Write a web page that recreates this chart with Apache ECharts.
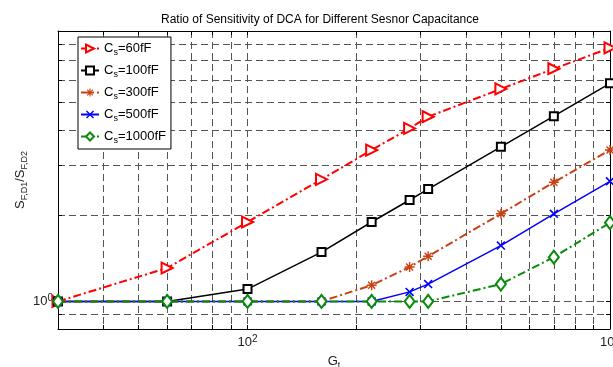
<!DOCTYPE html>
<html>
<head>
<meta charset="utf-8">
<script src="https://cdn.jsdelivr.net/npm/echarts@6/dist/echarts.min.js"></script>
<style>html,body{margin:0;padding:0;background:#fff}#c{width:613px;height:367px}</style>
</head>
<body>
<div id="c"></div>
<script>
// Data
const gt = [30, 60, 100, 160, 220, 280, 315, 500, 700, 1000];
const cs60 = [1, 1.31, 1.90, 2.68, 3.40, 4.05, 4.45, 5.57, 6.56, 7.76];
const cs100 = [1, 1, 1.105, 1.49, 1.90, 2.27, 2.48, 3.49, 4.47, 5.83];
const cs300 = [1, 1, 1, 1, 1.14, 1.32, 1.44, 2.03, 2.62, 3.40];
const cs500 = [1, 1, 1, 1, 1, 1.08, 1.15, 1.57, 2.03, 2.64];
const cs1000 = [1, 1, 1, 1, 1, 1, 1, 1.15, 1.43, 1.89];
const seriesNames = ['60fF', '100fF', '300fF', '500fF', '1000fF'];
const xTickValues = [40, 50, 60, 70, 80, 90, 100, 200, 300, 400, 500, 600, 700, 800, 900];
const yTickValues = [0.9, 1, 2, 3, 4, 5, 6, 7, 8];

const FONT = 'Liberation Sans, Arial, sans-serif';
const asterisk = 'path://M4.3,0L5.7,0L5.7,10L4.3,10Z M0,4.3L10,4.3L10,5.7L0,5.7Z M1,2L2,1L9,8L8,9Z M8,1L9,2L2,9L1,8Z';
const cross = 'path://M1,2L2,1L9,8L8,9Z M8,1L9,2L2,9L1,8Z';
const dashDot = [8, 3, 2, 3];

function pairs(arr) { return gt.map((x, i) => [x, arr[i]]); }
function powLabel(v) { return '{b|10}{e|' + Math.round(Math.log10(v)) + '}'; }

const labelRich = {
  b: { fontSize: 13, fontFamily: FONT, color: '#222', lineHeight: 16 },
  e: { fontSize: 10, fontFamily: FONT, color: '#222', lineHeight: 16, verticalAlign: 'top', padding: [0, 0, 6, 0] }
};
const gridLine = { show: true, lineStyle: { color: '#555', type: [7, 4], width: 1 } };

const chart = echarts.init(document.getElementById('c'), null, { renderer: 'canvas' });
const option = {
  animation: false,
  backgroundColor: '#fff',
  title: {
    text: 'Ratio of Sensitivity of DCA for Different Sesnor Capacitance',
    left: 156, top: 9,
    textStyle: { fontSize: 12, fontWeight: 'normal', fontFamily: FONT, color: '#000' }
  },
  grid: { left: 58, right: 3, top: 31, bottom: 38, containLabel: false, outerBoundsMode: 'none' },
  legend: {
    orient: 'vertical', left: 78, top: 37,
    itemWidth: 18, itemHeight: 10, itemGap: 6,
    padding: [4, 5, 4, 2],
    borderColor: '#000', borderWidth: 1, backgroundColor: '#fff',
    data: seriesNames,
    formatter: n => '{c|C}{s|s}{c|=' + n + '}',
    textStyle: {
      rich: {
        c: { fontSize: 13, fontFamily: FONT, color: '#000', lineHeight: 17 },
        s: { fontSize: 9, fontFamily: FONT, color: '#000', lineHeight: 17, verticalAlign: 'bottom', padding: [7, 0, 0, 0] }
      }
    }
  },
  xAxis: [{
    type: 'log', logBase: 10, min: 30, max: 1000,
    name: '{a|G}{b|t}', nameLocation: 'middle', nameGap: 12,
    nameTextStyle: { rich: {
      a: { fontSize: 13, fontFamily: FONT, color: '#222', lineHeight: 16 },
      b: { fontSize: 9, fontFamily: FONT, color: '#222', lineHeight: 16, verticalAlign: 'bottom', padding: [6, 0, 0, 0] }
    } },
    axisLine: { show: true, onZero: false, lineStyle: { color: '#000', width: 1 } },
    axisTick: { show: true, inside: true, length: 4, customValues: xTickValues, lineStyle: { color: '#000' } },
    axisLabel: { show: true, formatter: powLabel, margin: 5, rich: labelRich, showMinLabel: false, showMaxLabel: true, hideOverlap: false },
    splitLine: gridLine,
    minorTick: { show: false }, minorSplitLine: { show: false }
  }, {
    type: 'log', logBase: 10, min: 30, max: 1000, position: 'top',
    axisLine: { show: true, onZero: false, lineStyle: { color: '#000', width: 1 } },
    axisTick: { show: true, inside: true, length: 4, customValues: xTickValues, lineStyle: { color: '#000' } },
    axisLabel: { show: false }, splitLine: { show: false }
  }],
  yAxis: [{
    type: 'log', logBase: 10, min: 0.8, max: 8.9,
    name: '{a|S}{b|F,D1}{a|/S}{b|F,D2}', nameLocation: 'middle', nameGap: 29, nameMoveOverlap: false,
    nameTextStyle: { rich: {
      a: { fontSize: 13, fontFamily: FONT, color: '#222', lineHeight: 18 },
      b: { fontSize: 9, fontFamily: FONT, color: '#222', lineHeight: 18, verticalAlign: 'bottom', padding: [8, 0, 0, 0] }
    } },
    axisLine: { show: true, onZero: false, lineStyle: { color: '#000', width: 1 } },
    axisTick: { show: true, inside: true, length: 4, customValues: yTickValues, lineStyle: { color: '#000' } },
    axisLabel: { show: true, formatter: powLabel, margin: 5, rich: labelRich, showMinLabel: false, showMaxLabel: false },
    splitLine: gridLine,
    minorTick: { show: false }, minorSplitLine: { show: false }
  }, {
    type: 'log', logBase: 10, min: 0.8, max: 8.9, position: 'right',
    axisLine: { show: true, onZero: false, lineStyle: { color: '#000', width: 1 } },
    axisTick: { show: true, inside: true, length: 4, customValues: yTickValues, lineStyle: { color: '#000' } },
    axisLabel: { show: false }, splitLine: { show: false }
  }],
  series: [
    { name: '60fF', type: 'line', data: pairs(cs60), color: '#ff0000',
      symbol: 'emptyTriangle', symbolRotate: -90, symbolSize: 11,
      lineStyle: { width: 2, type: dashDot }, itemStyle: { borderWidth: 1.5 } },
    { name: '100fF', type: 'line', data: pairs(cs100), color: '#000000',
      symbol: 'emptyRect', symbolSize: 8,
      lineStyle: { width: 1.5, type: 'solid' }, itemStyle: { borderWidth: 1.5 } },
    { name: '300fF', type: 'line', data: pairs(cs300), color: '#c8410f',
      symbol: asterisk, symbolSize: 10,
      lineStyle: { width: 2, type: dashDot } },
    { name: '500fF', type: 'line', data: pairs(cs500), color: '#0000ff',
      symbol: cross, symbolSize: 9,
      lineStyle: { width: 1.5, type: 'solid' } },
    { name: '1000fF', type: 'line', data: pairs(cs1000), color: '#0a8a0a',
      symbol: 'emptyDiamond', symbolSize: [10, 13],
      lineStyle: { width: 2, type: dashDot }, itemStyle: { borderWidth: 1.5 } }
  ]
};
chart.setOption(option);
</script>
</body>
</html>
